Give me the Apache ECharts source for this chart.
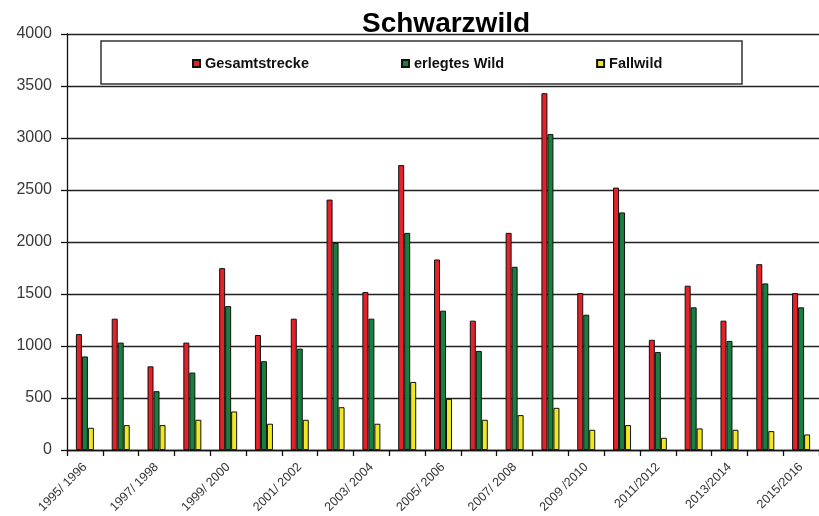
<!DOCTYPE html>
<html>
<head>
<meta charset="utf-8">
<script src="https://cdn.jsdelivr.net/npm/echarts@6/dist/echarts.min.js"></script>
<style>html,body{margin:0;padding:0;background:#fff}#c{width:819px;height:516px}</style>
</head>
<body>
<div id="c"></div>
<script>
const categories = ['1995/ 1996','1996/ 1997','1997/ 1998','1998/ 1999','1999/ 2000','2000/ 2001','2001/ 2002','2002/ 2003','2003/ 2004','2004/ 2005','2005/ 2006','2006/ 2007','2007/ 2008','2008/ 2009','2009 /2010','2010/2011','2011/2012','2012/2013','2013/2014','2014/2015','2015/2016'];
const gesamtstrecke = [1115,1263,805,1033,1749,1106,1263,2408,1519,2740,1832,1244,2088,3431,1509,2523,1060,1580,1244,1787,1509];
const erlegtesWild  = [900,1033,566,745,1384,854,975,1992,1263,2088,1340,953,1762,3038,1301,2285,943,1372,1049,1602,1372];
const fallwild      = [214,240,240,291,371,253,291,412,253,655,492,291,336,406,195,240,118,208,195,182,150];
const yTicks = [0,500,1000,1500,2000,2500,3000,3500,4000];

const chart = echarts.init(document.getElementById('c'), null, {renderer:'canvas'});
const bw = 6;
function mk(name, data, color){
  return {name, type:'bar', data, barWidth:bw, barGap:'0%', barCategoryGap:'50%',
    itemStyle:{color, borderColor:'#111', borderWidth:1}, animation:false};
}
chart.setOption({
  animation:false,
  title:{text:'Schwarzwild', left:362, top:10, padding:0,
    textStyle:{fontFamily:'Liberation Sans, Arial', fontWeight:'bold', fontSize:28, color:'#000'}},
  graphic:[{type:'rect', shape:{x:101, y:41, width:641, height:43},
    style:{fill:'#fff', stroke:'#333', lineWidth:1.5}, z:5}],
  legend:{left:192, top:56, padding:0, itemGap:92, itemWidth:7, itemHeight:7, icon:'rect', z:10,
    textStyle:{fontFamily:'Liberation Sans, Arial', fontWeight:'bold', fontSize:14.5, color:'#111'},
    data:['Gesamtstrecke','erlegtes Wild','Fallwild']},
  grid:{left:67, top:34, width:756, height:417, containLabel:false},
  xAxis:{type:'category', data:categories,
    axisLine:{lineStyle:{color:'#111', width:1.3}},
    axisTick:{show:true, interval:0, length:6, lineStyle:{color:'#111', width:1.3}},
    axisLabel:{interval:1, rotate:45, margin:15, fontFamily:'Liberation Sans, Arial', fontSize:12.5, color:'#333'}},
  yAxis:{type:'value', min:0, max:4000, interval:500,
    axisLine:{show:true, lineStyle:{color:'#111', width:1.3}},
    axisTick:{show:true, length:6, lineStyle:{color:'#111', width:1.3}},
    splitLine:{lineStyle:{color:'#222', width:1.3}},
    axisLabel:{margin:15, fontFamily:'Liberation Sans, Arial', fontSize:16, color:'#3a3a3a',
      formatter: v => yTicks.includes(v) ? String(v) : ''}},
  series:[mk('Gesamtstrecke', gesamtstrecke, '#e3222a'), mk('erlegtes Wild', erlegtesWild, '#17803f'), mk('Fallwild', fallwild, '#f0e922')]
});
</script>
</body>
</html>
